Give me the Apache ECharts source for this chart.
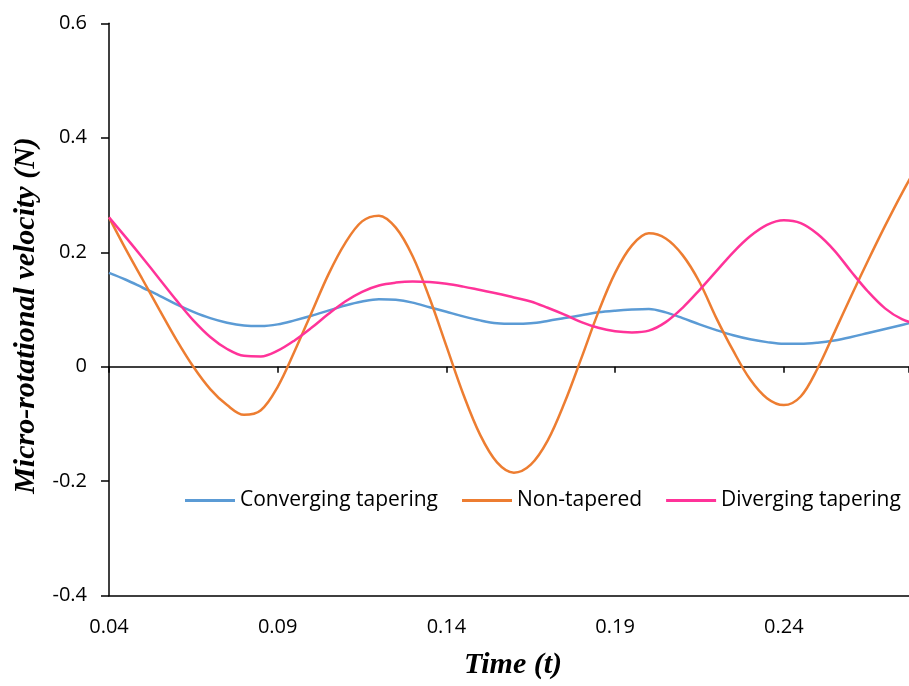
<!DOCTYPE html>
<html>
<head>
<meta charset="utf-8">
<title>Micro-rotational velocity vs time</title>
<script src="https://cdn.jsdelivr.net/npm/echarts@6/dist/echarts.min.js"></script>
<style>
  html, body { margin: 0; padding: 0; background: #ffffff; }
  #chart { width: 909px; height: 686px; }
</style>
</head>
<body>
<div id="chart"></div>
<script>
// Sample times (t)
const timeValues = [
  0.040, 0.045, 0.050, 0.055, 0.060, 0.065, 0.070, 0.075, 0.080, 0.085,
  0.090, 0.095, 0.100, 0.105, 0.110, 0.115, 0.120, 0.125, 0.130, 0.135,
  0.140, 0.145, 0.150, 0.155, 0.160, 0.165, 0.170, 0.175, 0.180, 0.185,
  0.190, 0.195, 0.200, 0.205, 0.210, 0.215, 0.220, 0.225, 0.230, 0.235,
  0.240, 0.245, 0.250, 0.255, 0.260, 0.265, 0.270, 0.275, 0.280
];

// Micro-rotational velocity (N) for each geometry
const convergingTapering = [
  0.164, 0.152, 0.138, 0.124, 0.109, 0.096, 0.085, 0.077, 0.072, 0.071,
  0.074, 0.081, 0.089, 0.098, 0.107, 0.114, 0.118, 0.117, 0.112, 0.104,
  0.096, 0.088, 0.081, 0.076, 0.075, 0.076, 0.080, 0.085, 0.090, 0.095,
  0.098, 0.100, 0.101, 0.095, 0.085, 0.074, 0.064, 0.055, 0.048, 0.043,
  0.040, 0.040, 0.042, 0.046, 0.052, 0.059, 0.066, 0.073, 0.080
];

const nonTapered = [
  0.261, 0.205, 0.152, 0.099, 0.047, 0.000, -0.039, -0.067, -0.084, -0.076,
  -0.035, 0.027, 0.094, 0.161, 0.216, 0.254, 0.264, 0.243, 0.193, 0.120,
  0.036, -0.048, -0.119, -0.167, -0.185, -0.171, -0.129, -0.063, 0.015, 0.095,
  0.164, 0.212, 0.233, 0.224, 0.195, 0.148, 0.085, 0.028, -0.022, -0.055,
  -0.067, -0.052, -0.003, 0.060, 0.124, 0.186, 0.246, 0.303, 0.356
];

const divergingTapering = [
  0.261, 0.226, 0.190, 0.153, 0.116, 0.081, 0.052, 0.031, 0.019, 0.018,
  0.028, 0.046, 0.068, 0.092, 0.114, 0.131, 0.142, 0.147, 0.149, 0.148,
  0.145, 0.140, 0.134, 0.128, 0.121, 0.114, 0.103, 0.091, 0.078, 0.068,
  0.062, 0.060, 0.063, 0.078, 0.103, 0.134, 0.167, 0.200, 0.228, 0.248,
  0.256, 0.251, 0.232, 0.203, 0.166, 0.131, 0.102, 0.083, 0.074
];

const seriesNames = ['Converging tapering', 'Non-tapered', 'Diverging tapering'];
const seriesColors = ['#5B9BD5', '#ED7D31', '#FF3399'];
const seriesValues = [convergingTapering, nonTapered, divergingTapering];

const tickFont = 'Open Sans';
const titleFont = 'Liberation Serif';

function pairs(values) {
  return timeValues.map((t, i) => [t, values[i]]);
}

const chart = echarts.init(document.getElementById('chart'), null, { renderer: 'canvas' });

// The plotted window ends a little before t = 0.28
const xScale = { type: 'value', min: 0.04, max: 0.2771, interval: 0.05 };

chart.setOption({
  animation: false,
  backgroundColor: '#ffffff',
  grid: { left: 109, right: 0, top: 23.3, bottom: 90.3, containLabel: false },
  legend: {
    data: seriesNames,
    left: 185,
    top: 490,
    padding: 0,
    width: 760,
    icon: 'rect',
    itemWidth: 50,
    itemHeight: 3,
    itemGap: 24,
    textStyle: { fontFamily: tickFont, fontSize: 21, color: '#000' }
  },
  xAxis: [
    Object.assign({}, xScale, {
      position: 'bottom',
      name: 'Time (t)',
      nameLocation: 'middle',
      nameGap: 55,
      nameTextStyle: {
        fontFamily: titleFont, fontSize: 30, fontWeight: 'bold', fontStyle: 'italic', color: '#000',
        padding: [0, 0, 0, 8]
      },
      axisLine: { show: true, onZero: false, lineStyle: { color: '#000', width: 1.5 } },
      axisTick: { show: false },
      axisLabel: {
        show: true, margin: 22, showMaxLabel: false,
        fontFamily: tickFont, fontSize: 20, color: '#000',
        formatter: v => v.toFixed(2)
      },
      splitLine: { show: false }
    }),
    Object.assign({}, xScale, {
      position: 'top',
      axisLine: { show: true, onZero: true, lineStyle: { color: '#000', width: 1.5 } },
      axisTick: { show: true, inside: true, length: 6, lineStyle: { color: '#000', width: 1.5 } },
      axisLabel: { show: false },
      splitLine: { show: false }
    })
  ],
  yAxis: {
    type: 'value',
    min: -0.4,
    max: 0.6,
    interval: 0.2,
    name: 'Micro-rotational velocity (N)',
    nameLocation: 'middle',
    nameRotate: 90,
    nameGap: 63,
    nameTextStyle: {
      fontFamily: titleFont, fontSize: 30, fontWeight: 'bold', fontStyle: 'italic', color: '#000',
      padding: [0, 12, 0, 0]
    },
    axisLine: { show: true, lineStyle: { color: '#000', width: 1.5 } },
    axisTick: { show: true, length: 8, lineStyle: { color: '#000', width: 1.5 } },
    axisLabel: {
      margin: 22, fontFamily: tickFont, fontSize: 20, color: '#000',
      formatter: v => String(Math.round(v * 10) / 10)
    },
    splitLine: { show: false }
  },
  series: seriesNames.map((name, i) => ({
    name: name,
    type: 'line',
    xAxisIndex: 0,
    data: pairs(seriesValues[i]),
    smooth: 0.35,
    showSymbol: false,
    symbol: 'none',
    color: seriesColors[i],
    lineStyle: { color: seriesColors[i], width: 2.5 }
  }))
});
</script>
</body>
</html>
